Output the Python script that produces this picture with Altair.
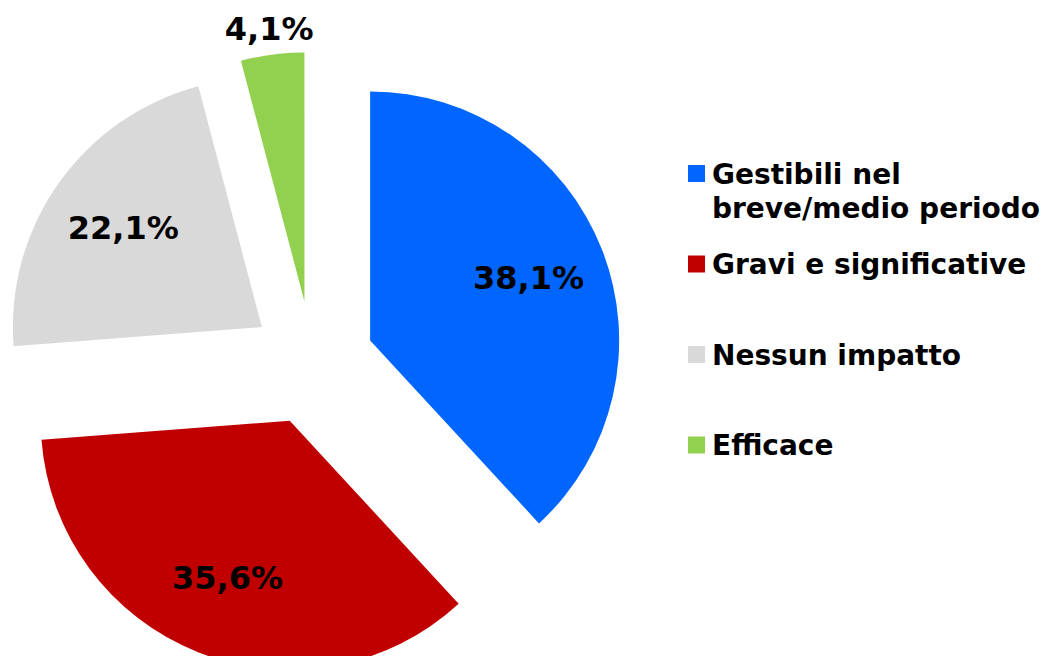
import altair as alt
import pandas as pd

# ---- data ----
categories = ["Gestibili nel breve/medio periodo", "Gravi e significative", "Nessun impatto", "Efficace"]
legend_text = ["Gestibili nel\nbreve/medio periodo", "Gravi e significative", "Nessun impatto", "Efficace"]
values = [38.1, 35.6, 22.1, 4.1]
value_labels = ["38,1%", "35,6%", "22,1%", "4,1%"]
colors = ["#0066FF", "#C00000", "#D9D9D9", "#92D050"]

df = pd.DataFrame({
    "cat": categories,
    "legend": legend_text,
    "value": values,
    "label": value_labels,
    "order": list(range(len(categories))),
})

# ---- geometry (style constants) ----
CX, CY = 304.4, 355.0     # pie centre in plot px
R = 249                   # outer radius
EXPLODE = 62              # slice explosion distance
LEG_X, LEG_Y0, LEG_STEP = 688.5, 165.5, 90.5

base = alt.Chart(df).transform_joinaggregate(
    total="sum(value)"
).transform_window(
    cum="sum(value)", sort=[{"field": "order"}], frame=[None, 0]
).transform_calculate(
    t1="datum.cum / datum.total * 2 * PI",
    t0="(datum.cum - datum.value) / datum.total * 2 * PI",
).transform_calculate(
    mid="(datum.t0 + datum.t1) / 2",
).transform_calculate(
    cx=f"{CX} + {EXPLODE} * sin(datum.mid)",
    cy=f"{CY} - {EXPLODE} * cos(datum.mid)",
    lr=f"datum.value / datum.total > 0.1 ? 170 : {R + 25}",
    sy=f"{LEG_Y0} + {LEG_STEP} * datum.order",
    sx=f"{LEG_X}",
).transform_calculate(
    lx="datum.cx + datum.lr * sin(datum.mid)",
    ly="datum.cy - datum.lr * cos(datum.mid)",
    tx="datum.sx + 15.5",
    ty="datum.sy - 12",
)

color = alt.Color("cat:N", scale=alt.Scale(domain=categories, range=colors), legend=None)

arcs = base.mark_arc(outerRadius=R, stroke=None).encode(
    theta=alt.Theta("t0:Q", scale=None, stack=False),
    theta2="t1:Q",
    x=alt.X("cx:Q", scale=None),
    y=alt.Y("cy:Q", scale=None),
    color=color,
)

labels = base.mark_text(
    font="DejaVu Sans", fontSize=32, fontWeight="bold", color="black",
    align="center", baseline="middle",
).encode(
    x=alt.X("lx:Q", scale=None),
    y=alt.Y("ly:Q", scale=None),
    text="label:N",
)

leg_sym = base.mark_square(size=289, opacity=1).encode(
    x=alt.X("sx:Q", scale=None),
    y=alt.Y("sy:Q", scale=None),
    color=color,
)

leg_txt = base.mark_text(
    font="DejaVu Sans", fontSize=28, fontWeight="bold", color="black",
    align="left", baseline="top", lineBreak="\n", lineHeight=34,
).encode(
    x=alt.X("tx:Q", scale=None),
    y=alt.Y("ty:Q", scale=None),
    text="legend:N",
)

chart = alt.layer(arcs, labels, leg_sym, leg_txt).properties(
    width=1038, height=648, padding=0,
    autosize=alt.AutoSizeParams(type="none"),
    background="white",
).configure_view(stroke=None)

chart.save("out.html", embed_options={"renderer": "svg", "actions": False})
